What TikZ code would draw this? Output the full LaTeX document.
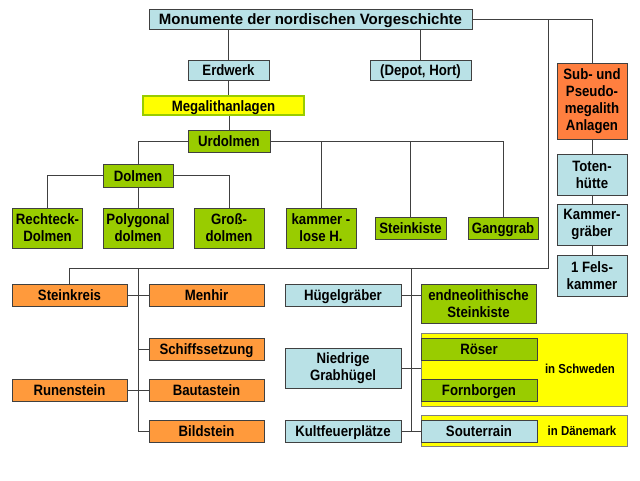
\documentclass[tikz,border=0pt]{standalone}
\usepackage{fontspec}
\setmainfont{Liberation Sans}[FakeStretch=0.88]
\newfontfamily\titlefont{Liberation Sans}
\usetikzlibrary{positioning}
\definecolor{mnblue}{HTML}{B9E1E6}
\definecolor{mngreen}{HTML}{99CC00}
\definecolor{mnorange}{HTML}{FF9A3C}
\definecolor{mnsub}{HTML}{FF7F3F}
\definecolor{mnyellow}{HTML}{FFFF00}
\definecolor{mnline}{HTML}{404040}
\tikzset{
  base/.style={draw=mnline,line width=0.9pt,align=center,inner sep=0pt,
               font=\fontsize{15}{17}\selectfont\bfseries},
  one/.style={text height=11pt,text depth=0pt},
  blu/.style={base,fill=mnblue},
  grn/.style={base,fill=mngreen},
  org/.style={base,one,fill=mnorange,minimum width=115pt,minimum height=22pt},
  subm/.style={base,fill=mnsub},
  ylw/.style={draw=gray,line width=0.9pt,fill=mnyellow,inner sep=0pt},
  note/.style={font=\fontsize{13}{15}\selectfont\bfseries},
  ln/.style={draw=mnline,line width=0.9pt},
}

\begin{document}
\begin{tikzpicture}[x=1pt,y=-1pt]
  \useasboundingbox (0,0) rectangle (640,480);
  % top of the tree
  \node[blu,one,minimum width=323pt,minimum height=20pt,font=\titlefont\fontsize{15}{17}\selectfont\bfseries] (title) at (310.5,19)
    {Monumente der nordischen Vorgeschichte};
  \node[blu,one,minimum width=81pt,minimum height=20pt] (erd) at (228.5,70) {Erdwerk};
  \node[blu,one,minimum width=101pt,minimum height=20pt] (dep) at (420.5,70) {(Depot, Hort)};
  \node[base,one,fill=mnyellow,draw=mngreen,line width=2pt,minimum width=161pt,minimum height=19pt] (meg) at (223.5,105.5)
    {Megalithanlagen};
  \node[grn,one,minimum width=82pt,minimum height=22pt] (urd) at (229,141) {Urdolmen};
  \node[grn,one,minimum width=70pt,minimum height=23pt] (dol) at (138,175.5) {Dolmen};
  \foreach \x/\nm/\t in {47.5/rech/Rechteck-\\Dolmen,138/poly/Polygonal\\dolmen,
                         229/gros/Groß-\\dolmen,321/kam/kammer -\\lose H.}
    {\node[grn,minimum width=70pt,minimum height=40pt] (\nm) at (\x,228) {\t};}
  \node[grn,one,minimum width=71pt,minimum height=22pt] (stk) at (410.5,228) {Steinkiste};
  \node[grn,one,minimum width=70pt,minimum height=22pt] (gang) at (503,228) {Ganggrab};
  % right column
  \node[subm,minimum width=70pt,minimum height=76pt] (sub) at (592,101)
    {Sub- und\\Pseudo-\\megalith\\Anlagen};
  \foreach \y/\nm/\t in {174.5/tot/Toten-\\hütte,224.5/kg/Kammer-\\gräber,276/fels/1 Fels-\\kammer}
    {\node[blu,minimum width=70pt,minimum height=41pt] (\nm) at (592,\y) {\t};}
  % lower left
  \node[org] (skr) at (69.5,295) {Steinkreis};
  \node[org] (men) at (206.5,295) {Menhir};
  \node[org] (sch) at (206.5,349) {Schiffssetzung};
  \node[org] (run) at (69.5,390) {Runenstein};
  \node[org] (bau) at (206.5,390) {Bautastein};
  \node[org] (bild) at (206.5,431) {Bildstein};
  % lower right
  \node[blu,one,minimum width=116pt,minimum height=22pt] (hug) at (343,295) {Hügelgräber};
  \node[blu,minimum width=116pt,minimum height=40pt] (nied) at (343,368) {Niedrige\\Grabhügel};
  \node[blu,one,minimum width=116pt,minimum height=22pt] (kult) at (343,431) {Kultfeuerplätze};
  \node[grn,minimum width=115pt,minimum height=39pt] (endn) at (478.5,303.5) {endneolithische\\Steinkiste};
  \node[ylw,minimum width=206pt,minimum height=73pt] (schw) at (524,369.5) {};
  \node[ylw,minimum width=206pt,minimum height=31pt] (dan) at (524,430.5) {};
  \node[grn,one,minimum width=116pt,minimum height=22pt] (ros) at (479,349) {Röser};
  \node[grn,one,minimum width=116pt,minimum height=22pt] (forn) at (479,390) {Fornborgen};
  \node[blu,one,minimum width=116pt,minimum height=22pt] (sou) at (479,431) {Souterrain};
  \node[note] (inschw) at (580,369) {in Schweden};
  \node[note] (indan) at (582,431) {in Dänemark};
  % junctions of the lower bus
  \coordinate (hub) at (548,268);
  \coordinate (busL) at (138,268);
  \coordinate (busR) at (411,268);
  % connectors
  \draw[ln] (erd.north) -- (erd.north |- title.south);
  \draw[ln] (dep.north) -- (dep.north |- title.south);
  \draw[ln] (erd.south) -- (erd.south |- meg.north);
  \draw[ln] (urd.north) -- (urd.north |- meg.south);
  \draw[ln] (urd.west) -| (dol.north);
  \draw[ln] (urd.east) -| (gang.north);
  \draw[ln] (kam.north) -- (kam.north |- urd.east);
  \draw[ln] (stk.north) -- (stk.north |- urd.east);
  \draw[ln] (dol.west) -| (rech.north);
  \draw[ln] (dol.east) -| (gros.north);
  \draw[ln] (dol.south) -- (poly.north);
  \draw[ln] (title.east) -| (sub.north);
  \draw[ln] (sub) -- (tot) -- (kg) -- (fels);
  \draw[ln] (title.east -| hub) -- (hub) -| (skr.north);
  \draw[ln] (busL) |- (bild.west);
  \draw[ln] (skr.east) -- (men.west);
  \draw[ln] (busL |- sch.west) -- (sch.west);
  \draw[ln] (run.east) -- (bau.west);
  \draw[ln] (busR) |- (sou.west);
  \draw[ln] (hug.east) -- (endn.west |- hug.east);
  \draw[ln] (nied.east) -- (schw.west |- nied.east);
  \draw[ln] (kult.east) -- (sou.west);
\end{tikzpicture}
\end{document}
